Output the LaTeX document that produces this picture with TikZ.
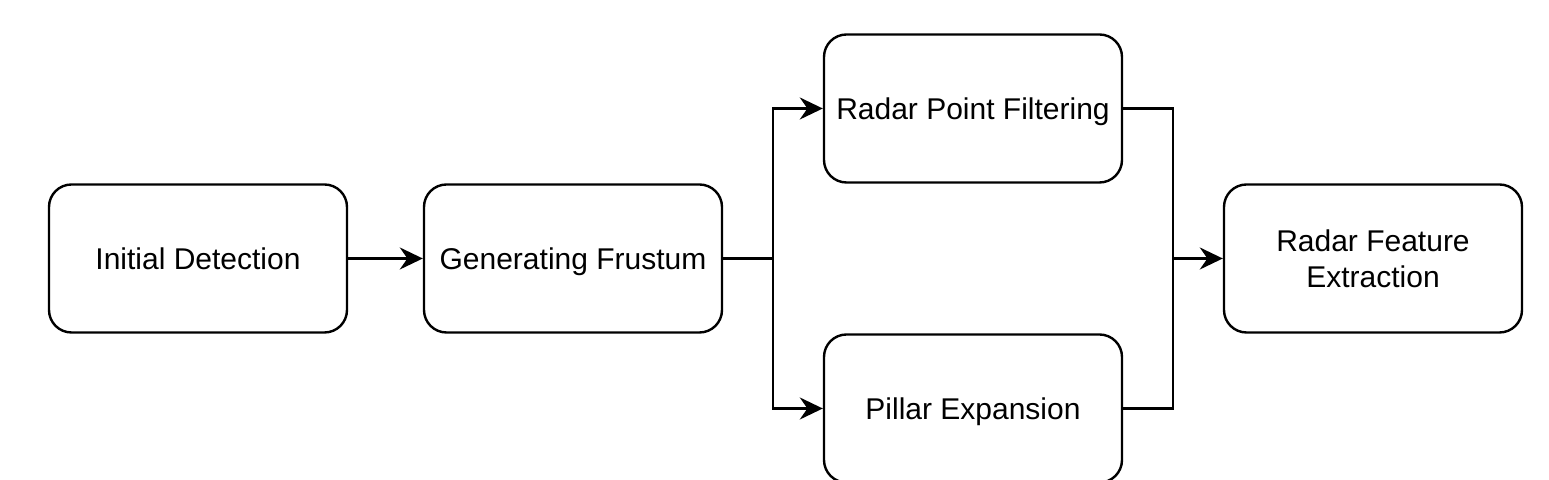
\documentclass[tikz,border=0pt]{standalone}
\usepackage{fontspec}
\setmainfont{Liberation Sans}
\usetikzlibrary{positioning,arrows.meta}

\begin{document}
\begin{tikzpicture}[x=50pt,y=50pt,
    stagebox/.style={draw, line width=1.2pt, rounded corners=11.25pt, fill=white,
        minimum width=149pt, minimum height=74pt, align=center, text depth=0pt,
        font=\fontsize{15pt}{18pt}\selectfont},
    flow/.style={line width=1.2pt},
    flowarrow/.style={flow, -{Stealth[length=11.5pt, width=11pt, inset=3.8pt]}}]
    \useasboundingbox (0,0) rectangle (15.49,4.80);

    % Stages
    \node[stagebox] (init) at (1.98,2.215) {Initial Detection};
    \node[stagebox] (frustum) at (5.73,2.215) {Generating Frustum};
    \node[stagebox] (filter) at (9.73,3.715) {Radar Point Filtering};
    \node[stagebox] (pillar) at (9.73,0.715) {Pillar Expansion};
    \node[stagebox] (feature) at (13.73,2.215) {Radar Feature\\Extraction};

    % Branch and merge points
    \coordinate (split) at (7.73,2.215);
    \coordinate (merge) at (11.73,2.215);

    \draw[flowarrow] (init) -- (frustum);

    \draw[flow] (frustum) -- (split);
    \draw[flowarrow] (split) |- (filter);
    \draw[flowarrow] (split) |- (pillar);

    \draw[flow] (filter) -| (merge);
    \draw[flow] (pillar) -| (merge);
    \draw[flowarrow] (merge) -- (feature);

\end{tikzpicture}
\end{document}
